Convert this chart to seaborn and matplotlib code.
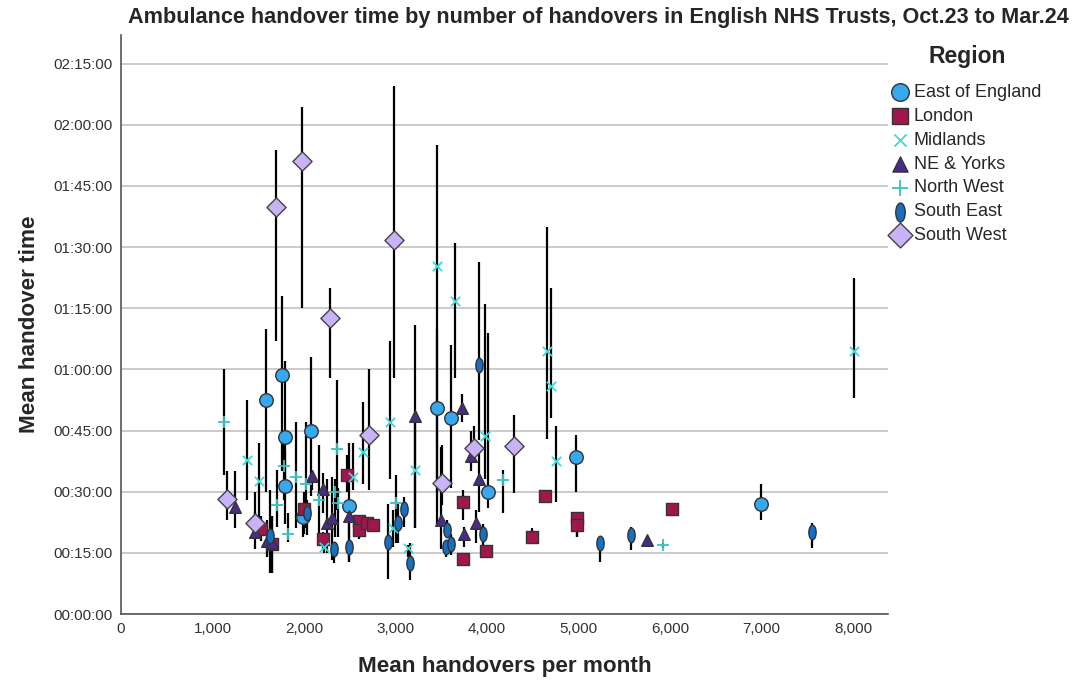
import pandas as pd
import numpy as np
import matplotlib
matplotlib.use("Agg")
import matplotlib.pyplot as plt
import seaborn as sns
from matplotlib.path import Path
from matplotlib.transforms import Affine2D
from matplotlib.ticker import FuncFormatter, MultipleLocator

# Datos (x = handovers/mes, y = minutos, lo/hi = barra)

eoe_x = [1588, 1760, 1789, 1796, 2077, 1993, 2492, 3457, 3607, 4008, 4973, 6995]
eoe_y = [52.4, 58.5, 43.4, 31.4, 45.0, 23.8, 26.5, 50.6, 48.0, 29.9, 38.6, 26.9]
eoe_lo = [30, 35, 33, 22, 29, 19, 13, 22, 31, 26, 30, 23]
eoe_hi = [70, 78, 62, 40, 63, 26, 42, 70, 66, 69, 44, 32]

lon_x = [1530, 1654, 2003, 2204, 2466, 2605, 2598, 2685, 2757, 3735, 3735, 3986, 4634, 4488, 4980, 4980, 6025]
lon_y = [20.8, 17.1, 25.8, 18.4, 34.1, 22.7, 20.6, 22.3, 21.8, 27.5, 13.6, 15.5, 29.0, 19.0, 23.5, 21.8, 25.8]
lon_lo = [18, 10, 19.5, 15.7, 30, 21, 18.5, 21, 21, 23, 13, 14.5, 28.5, 18, 19, 19, 25.5]
lon_hi = [24, 24, 30, 20, 39, 24, 22, 23.5, 22.5, 30.5, 14.5, 17, 29.5, 21, 25, 24, 26]

mid_x = [1381, 1508, 2219, 2532, 2648, 2940, 2969, 3140, 3213, 3450, 3654, 3978, 4652, 4696, 4754, 8004]
mid_y = [37.8, 32.6, 16.5, 33.7, 39.7, 47.0, 21.0, 16.1, 35.3, 85.4, 76.8, 43.7, 64.4, 56.0, 37.6, 64.4]
mid_lo = [28, 22, 15, 30.4, 32, 33, 16.5, 14, 21, 30, 58, 33, 43, 48, 27.5, 53]
mid_hi = [52.5, 42, 17.5, 42, 52, 67, 25.5, 17, 48, 115, 91, 76, 95, 80, 46, 82.4]

ne_x = [1249, 1464, 1592, 1647, 2091, 2204, 2248, 2303, 2495, 3213, 3497, 3723, 3752, 3825, 3880, 3916, 5745]
ne_y = [26.3, 20.2, 17.8, 17.4, 33.9, 30.6, 22.3, 23.5, 24.1, 48.6, 23.1, 50.6, 19.6, 38.8, 22.4, 33.1, 18.2]
ne_lo = [21, 16, 14, 10, 30.4, 24.8, 15, 13.3, 20, 21, 16, 47, 16.5, 35, 17.4, 25, 16.7]
ne_hi = [35, 25, 23, 24, 35.3, 34.6, 33, 33.7, 28, 71, 41, 54, 21.4, 45, 25.5, 40, 19]

nw_x = [1130, 1708, 1781, 1822, 1909, 2018, 2167, 2339, 2357, 2372, 3005, 4178, 5927]
nw_y = [47.0, 26.8, 36.3, 19.6, 33.5, 31.9, 28.0, 30.0, 40.5, 27.2, 27.2, 32.9, 16.9]
nw_lo = [34, 21.4, 28, 17.7, 21, 21, 19.4, 19, 25.5, 19, 17.4, 24.8, 16.3]
nw_hi = [60, 35.3, 44, 24.8, 47, 47, 41.5, 33, 57.4, 31, 34, 35.3, 17.5]

se_x = [1628, 2029, 2331, 2492, 2921, 3024, 3097, 3160, 3552, 3560, 3603, 3916, 3960, 5235, 5570, 7548]
se_y = [19.1, 24.7, 15.9, 16.5, 17.7, 22.4, 25.8, 12.6, 16.5, 20.6, 17.1, 61.1, 19.6, 17.4, 19.4, 20.0]
se_lo = [10, 19.4, 12.5, 12.7, 8.5, 17.4, 21.4, 8.3, 14, 19, 14.5, 42.7, 16.5, 12.8, 15.7, 16.2]
se_hi = [30.4, 28, 17.4, 20, 27, 27, 28.7, 17.4, 18, 23, 19.5, 86.4, 22, 18.7, 21.4, 22.3]

sw_x = [1158, 1464, 1694, 1978, 2284, 2714, 2987, 3512, 3862, 4295]
sw_y = [28.2, 22.4, 99.9, 111.0, 72.7, 43.9, 91.8, 32.2, 40.7, 41.1]
sw_lo = [23, 19, 67, 75, 58, 30.4, 58, 26.8, 38, 29.7]
sw_hi = [35, 30, 113.7, 124.4, 80, 60, 129.4, 41.5, 46, 48.8]

regiones = ["East of England", "London", "Midlands", "NE & Yorks",
            "North West", "South East", "South West"]

# Tabla larga

partes = []
for reg, xs, ys, lo, hi in zip(
        regiones,
        [eoe_x, lon_x, mid_x, ne_x, nw_x, se_x, sw_x],
        [eoe_y, lon_y, mid_y, ne_y, nw_y, se_y, sw_y],
        [eoe_lo, lon_lo, mid_lo, ne_lo, nw_lo, se_lo, sw_lo],
        [eoe_hi, lon_hi, mid_hi, ne_hi, nw_hi, se_hi, sw_hi]):
    partes.append(pd.DataFrame({"region": reg, "x": xs, "y": ys, "lo": lo, "hi": hi}))
data = pd.concat(partes, ignore_index=True)

# Estilos de marcador

ovalo = Path.unit_circle().transformed(Affine2D().scale(0.5, 1.0))
estilos = {
    "East of England": dict(marker="o", color="#35A8F0", s=95, edgecolor="#333333", linewidth=1),
    "London": dict(marker="s", color="#A0174E", s=85, edgecolor="#333333", linewidth=1),
    "Midlands": dict(marker="x", color="#3FD8D8", s=45, linewidth=1.3),
    "NE & Yorks": dict(marker="^", color="#4A2B8C", s=70, edgecolor="#333333", linewidth=1),
    "North West": dict(marker="+", color="#38C2C0", s=70, linewidth=1.3),
    "South East": dict(marker=ovalo, color="#1570C4", s=110, edgecolor="#333333", linewidth=1),
    "South West": dict(marker="D", color="#C9B2F6", s=95, edgecolor="#444444", linewidth=1),
}

sns.set_style("white")
plt.rcParams["font.family"] = ["Liberation Sans", "DejaVu Sans"]

fig = plt.figure(figsize=(10.84, 6.91), dpi=100)
ax = fig.add_axes([121/1084, 1-614/691, (888-121)/1084, (614-35)/691])

# Barras verticales

ax.vlines(data["x"], data["lo"], data["hi"], color="black", linewidth=1.6, zorder=2)

for reg in regiones:
    sub = data[data["region"] == reg]
    sns.scatterplot(data=sub, x="x", y="y", ax=ax, label=reg, zorder=3, **estilos[reg])

ax.set_xlim(0, 8380)
ax.set_ylim(0, 142)
ax.yaxis.set_major_locator(MultipleLocator(15))
ax.xaxis.set_major_locator(MultipleLocator(1000))
ax.yaxis.set_major_formatter(FuncFormatter(lambda v, p: f"{int(v)//60:02d}:{int(v)%60:02d}:00"))
ax.xaxis.set_major_formatter(FuncFormatter(lambda v, p: f"{int(v):,}"))
ax.grid(axis="y", color="#BDBDBD", linewidth=1.1)
ax.set_axisbelow(True)
ax.tick_params(length=0, labelsize=11, labelcolor="#333333", pad=6)

for lado in ["top", "right"]:
    ax.spines[lado].set_visible(False)
for lado in ["left", "bottom"]:
    ax.spines[lado].set_color("#555555")
    ax.spines[lado].set_linewidth(1.2)

ax.set_xlabel("Mean handovers per month", fontsize=16.2, fontweight="bold", labelpad=14)
ax.set_ylabel("Mean handover time", fontsize=16.2, fontweight="bold", labelpad=10)
fig.suptitle("Ambulance handover time by number of handovers in English NHS Trusts, Oct.23 to Mar.24",
             x=598/1084, y=1-18/691, va="center", fontsize=15.6, fontweight="bold")

# Leyenda con titulo aparte

fig.text(967/1084, 1-57/691, "Region", ha="center", va="center", fontsize=16.5, fontweight="bold")
leg = ax.legend(loc="upper left", bbox_to_anchor=(882/1084, 1-75/691),
                bbox_transform=fig.transFigure, frameon=False, fontsize=13,
                markerscale=1.3, handlelength=1.0, handletextpad=0.25,
                labelspacing=0.38, borderpad=0)

fig.savefig("out.png", dpi=100)
